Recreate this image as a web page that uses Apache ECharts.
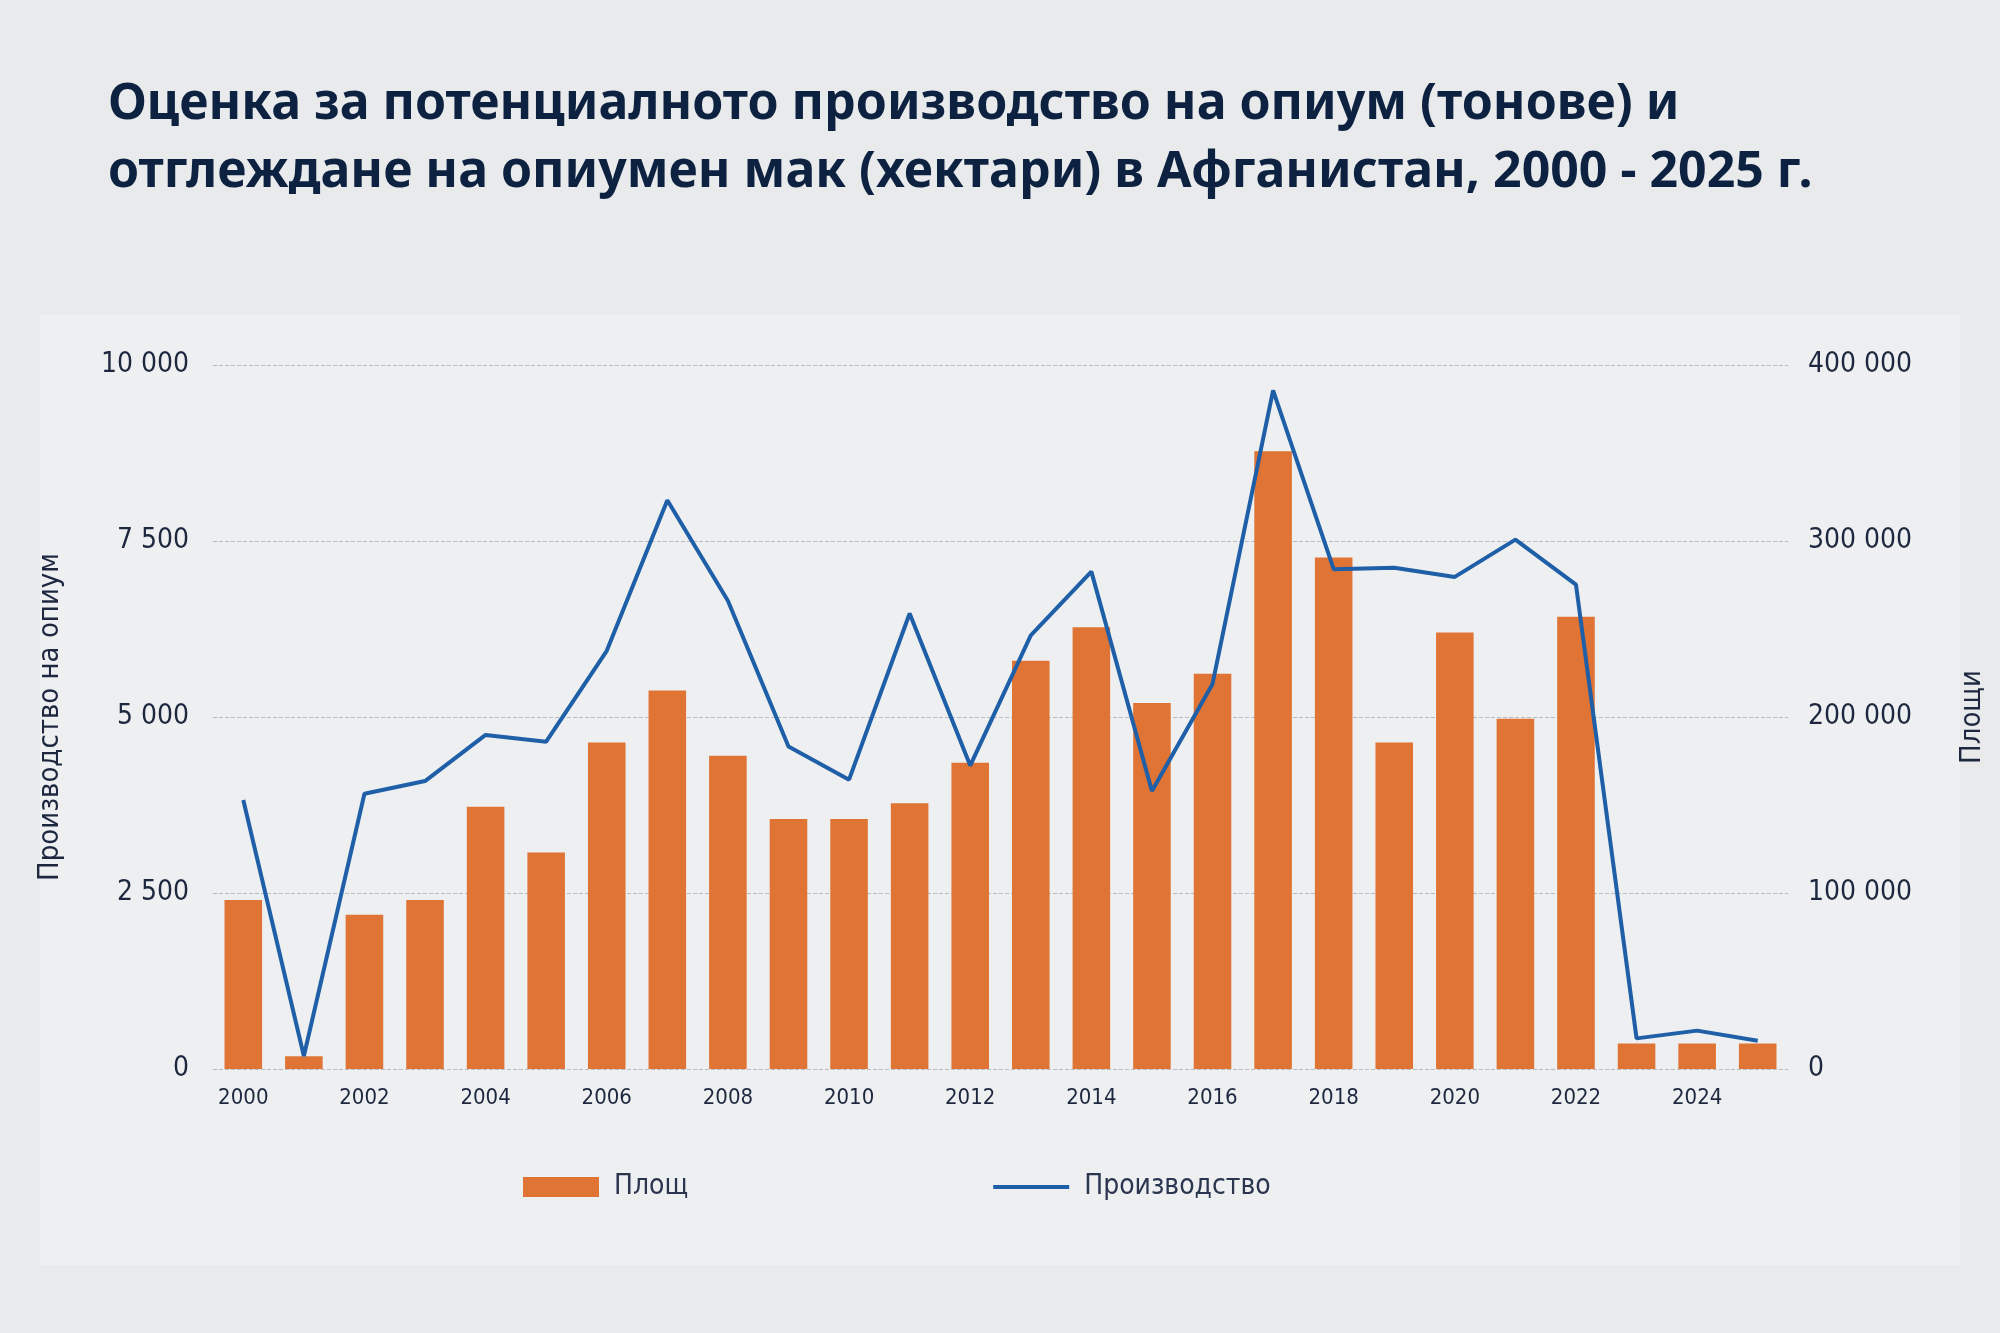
<!DOCTYPE html>
<html><head><meta charset="utf-8">
<script src="https://cdn.jsdelivr.net/npm/echarts@6/dist/echarts.min.js"></script>
<style>html,body{margin:0;background:#e9eaec}#c{width:2000px;height:1333px}</style>
</head><body><div id="c"></div>
<script>
var years = ['2000','2001','2002','2003','2004','2005','2006','2007','2008','2009','2010','2011','2012','2013','2014','2015','2016','2017','2018','2019','2020','2021','2022','2023','2024','2025']
// площ (хектари)
var area = [96000,7200,87700,96000,149000,123000,185500,215000,178000,142000,142000,151000,174000,232000,251000,208000,224600,351000,290600,185500,248000,199000,257000,14500,14500,14500]
// производство (тонове)
var production = [3820,185,3910,4090,4745,4650,5940,8080,6650,4580,4110,6470,4310,6160,7065,3950,5470,9640,7100,7120,6990,7520,6880,435,545,400]

var narrow = "'DejaVu Sans Condensed','Liberation Sans Narrow','Roboto',sans-serif"
var fmt = function (v) { return String(v).replace(/\B(?=(\d{3})+(?!\d))/g, ' ') }
var chart = echarts.init(document.getElementById('c'))
chart.setOption({
  backgroundColor: '#e9eaec',
  animation: false,
  title: {
    text: 'Оценка за потенциалното производство на опиум (тонове) и\nотглеждане на опиумен мак (хектари) в Афганистан, 2000 - 2025 г.',
    left: 103, top: 66,
    textStyle: { fontFamily: "'Noto Sans','Open Sans',sans-serif", fontWeight: 'bold', fontSize: 50, lineHeight: 68, color: '#0d2240' }
  },
  graphic: [{ type: 'rect', shape: { x: 40, y: 315, width: 1920, height: 950 }, style: { fill: '#eeeff0' }, z: -10 }],
  legend: {
    left: 518, top: 1168, itemGap: 305, itemWidth: 76, itemHeight: 20,
    textStyle: { fontFamily: narrow, fontSize: 28, color: '#2a3550', padding: [0, 0, 0, 10] },
    data: [{ name: 'Площ', icon: 'rect' }, { name: 'Производство', icon: 'path://M0 0h40v2H0z' }]
  },
  grid: { left: 213, right: 212, top: 365, bottom: 264 },
  xAxis: {
    type: 'category', data: years,
    axisLine: { show: false }, axisTick: { show: false },
    axisLabel: { fontFamily: narrow, fontSize: 22, color: '#1d2840', margin: 18 }
  },
  yAxis: [{
    type: 'value', min: 0, max: 10000, interval: 2500,
    name: 'Производство на опиум', nameLocation: 'middle', nameGap: 148, nameRotate: 90,
    nameTextStyle: { fontFamily: narrow, fontSize: 29, color: '#1d2840' },
    axisLabel: { fontFamily: narrow, fontSize: 28, color: '#1d2840', margin: 24, formatter: fmt },
    splitLine: { lineStyle: { color: '#b8bcc2', type: 'dashed' } }
  }, {
    type: 'value', min: 0, max: 400000, interval: 100000,
    name: 'Площи', nameLocation: 'middle', nameGap: 170, nameRotate: 90,
    nameTextStyle: { fontFamily: narrow, fontSize: 29, color: '#1d2840' },
    axisLabel: { fontFamily: narrow, fontSize: 28, color: '#1d2840', margin: 20, formatter: fmt },
    splitLine: { show: false }
  }],
  series: [{
    name: 'Площ', type: 'bar', yAxisIndex: 1, data: area, barWidth: '62%',
    itemStyle: { color: '#e07434' }
  }, {
    name: 'Производство', type: 'line', yAxisIndex: 0, data: production,
    symbol: 'none', lineStyle: { color: '#1f5fa8', width: 4 }, itemStyle: { color: '#1f5fa8' }
  }]
})
</script></body></html>
